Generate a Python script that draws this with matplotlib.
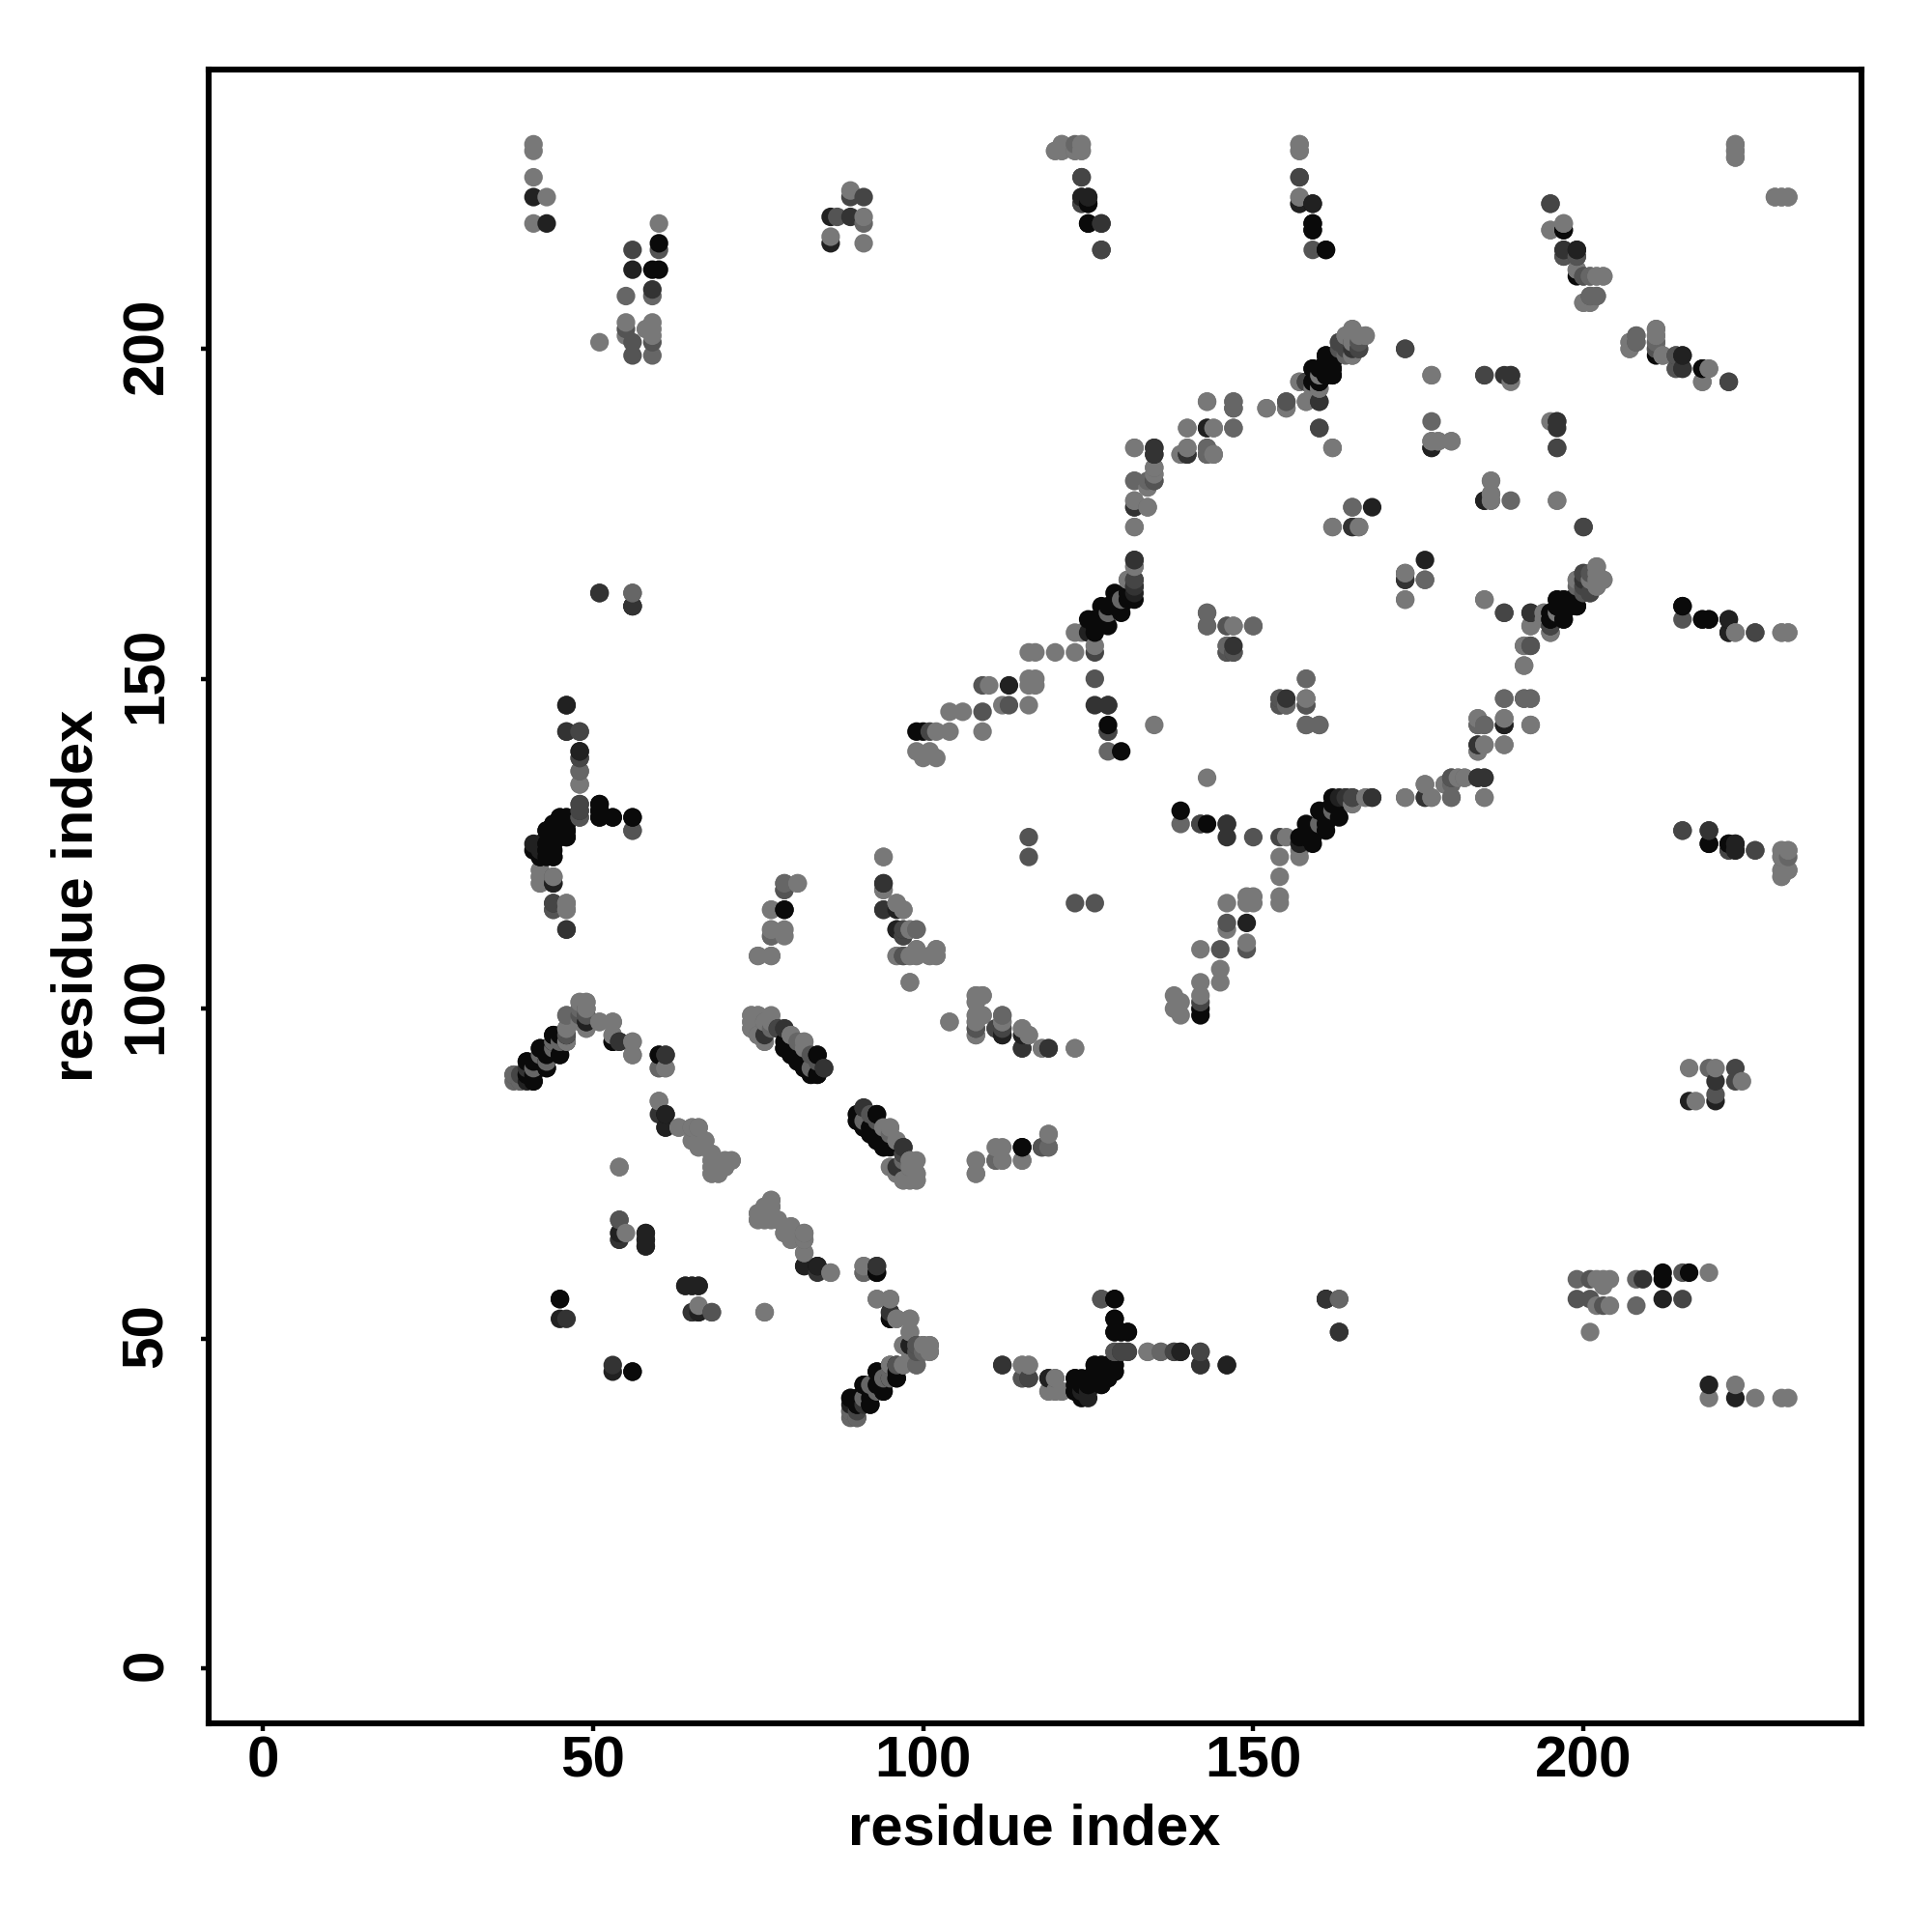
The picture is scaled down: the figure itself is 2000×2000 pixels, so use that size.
import numpy as np
import matplotlib
matplotlib.use('Agg')
import matplotlib.pyplot as plt
from matplotlib.transforms import ScaledTranslation

plt.rcParams['font.family'] = ['Liberation Sans', 'DejaVu Sans']

# residue contacts (i, j) with i < j, one list per grey level
shade_0 = [(60,216),(59,212),(60,212),(125,219),(125,222),(159,218),(159,219),(161,215),(161,199),(162,198),
           (159,197),(161,197),(162,196),(160,195),(159,195),(160,197),(160,196),(161,198),(125,159),(127,161),
           (129,163),(126,157),(128,158),(130,160),(131,162),(132,162),(126,158),(126,159),(127,159),(129,161),
           (130,161),(131,163),(130,139),(128,143),(128,161),(51,131),(51,130),(51,129),(53,129),
           (56,129),(45,129),(46,129),(46,127),(46,126),(43,127),(43,125),(41,124),(42,123),(43,123),(44,123),
           (45,127),(53,95),(42,94),(42,92),(43,92),(43,91),(40,92),(40,90),(41,90),(41,89),(44,94),(45,93),(44,96),
           (60,93),(79,94),(80,93),(81,93),(81,92),(82,92),(83,91),
           (83,90),(84,90),(84,93),(79,95),(82,91),(90,84),(90,83),(91,82),(92,82),(93,80),(94,80),(93,84),(92,81),
           (94,79),(93,60),(84,61),
           (95,53),(96,46),(93,45),(96,44),(91,43),(94,42),(89,41),(90,40),(92,40),(91,41),(92,41),(93,43),(94,43),
           (95,44),(96,45),(45,56),(79,115),(44,126),(43,124),(46,128),(44,128),
           (197,218),(199,211),(195,160),(162,197),(161,196),(197,159),(99,142),
           (161,196),(100,142),(123,44),(123,42),(124,43),(124,44),(125,44),(126,46),(127,46),(126,44),(127,43),
           (126,45),(127,45),(128,45),(129,45),(128,46),(129,46),(128,44),(125,43),(129,56),(129,53),(129,51),
           (130,51),(131,51),(56,45),(115,79),(218,197),(195,159),(196,162),(197,162),(196,161),(197,161),(198,161),
           (199,161),(215,161),(218,159),(219,159),(222,159),(222,157),(219,125),(222,125)]
shade_1 = [(41,223),(43,219),(56,212),(86,216),(86,220),(124,223),(125,223),(157,222),(159,222),(143,188),
           (132,164),(132,163),(168,176),(177,185),(46,146),(48,139),(56,161),(44,119),(41,125),(49,98),(46,95),
           (61,84),(61,82),(58,66),(58,65),(58,64),(54,66),(82,61),(96,112),(96,115),(199,215),(215,199),(113,149),
           (125,157),(89,40),(64,58),(65,58),(66,58),(66,54),(45,53),(95,54),(98,49),(112,96),(139,48),(146,46),
           (56,161),(119,44),(124,42),(125,42),(185,177),(184,140),(188,143),(184,135),(223,125),(223,124)]
shade_2 = [(59,209),(89,220),(127,219),(127,215),(160,192),(158,195),(135,184),(135,185),(140,184),(132,168),
           (132,165),(165,173),(173,165),(126,146),(128,146),(147,155),(146,128),
           (51,163),(46,142),(48,130),(46,112),(61,93),(54,95),(40,91),(76,96),(78,97),(79,97),(85,91),(91,85),
           (97,79),(94,119),(94,115),(112,97),(115,94),(119,94),(84,60),(93,61),(54,65),(65,54),(46,53),(112,46),(116,44),
           (142,46),(163,51),(176,132),(192,160),(200,165),(197,215),(215,197),(219,127),(161,56),
           (185,135),(188,196),(189,196),(132,176),(173,166),(196,189),(168,132),(164,132)]
shade_3 = [(56,215),(89,223),(91,223),(124,226),(157,226),(124,222),(135,180),(147,191),(160,188),(163,201),
           (166,200),(126,154),(146,154),(147,154),(128,142),(142,128),(165,132),(188,160),(48,142),(48,138),(48,131),
           (49,99),(39,90),(44,116),(97,78),(97,111),(97,112),(97,108),(111,97),(130,48),(131,48),(138,48),
           (142,48),(195,222),(222,195),(226,157),(226,124),(222,124),(215,127),(200,166),(200,164),(201,165),(201,163),
           (195,158),(199,214),(185,196),(196,185),(173,200),(54,68),(200,173),(101,142)]
shade_4 = [(60,215),(55,203),(56,201),(56,199),(59,201),(87,220),(155,192),(197,214),(200,211),(208,201),
           (211,200),(214,199),(214,197),(163,200),(143,184),(159,215),(126,150),(146,158),(147,158),
           (154,147),(154,146),(155,146),(158,146),(56,127),(48,129),(44,115),(49,100),(46,96),(79,118),
           (83,93),(92,84),(116,123),(116,126),(108,97),(111,77),(118,79),(119,79),(68,54),(115,44),(120,44),
           (129,48),(127,56),(163,56),(89,39),(90,38),(201,166),(192,155),(180,135),(99,49),(99,48),
           (109,145),(109,149),(113,146)]
shade_5 = [(59,208),(55,208),(59,199),(56,163),(91,219),(123,231),(123,230),(147,192),(147,188),(135,181),
           (132,180),(143,185),(165,176),(177,189),(176,165),(186,177),(185,162),(143,160),(143,158),
           (150,158),(146,155),(158,150),(158,143),(160,143),(184,143),(185,143),(188,147),(191,147),(192,147),
           (188,140),(191,155),(192,158),(195,157),(199,165),(199,164),(208,202),(211,201),(201,208),(202,208),
           (201,211),(182,135),(176,134),(180,134),(180,132),(128,139),(48,136),(38,90),
           (38,89),(39,89),(46,99),(48,100),(56,93),(60,91),(54,76),(41,91),(42,93),(44,95),(75,96),(76,98),
           (77,97),(81,95),(79,119),(77,111),(99,112),(98,108),(82,66),(82,65),(91,60),(99,46),(136,48),
           (91,83),(92,43),(94,44),(95,45),(112,99),(128,160),(130,162)]
shade_6 = [(41,231),(41,230),(41,226),(43,223),(41,219),(60,219),(55,204),(55,202),(59,204),(59,203),(59,202),
           (58,203),(51,201),(89,224),(91,220),(86,217),(91,216),(120,230),(121,231),(121,230),(124,231),(124,230),
           (157,231),(157,230),(157,223),(165,203),(167,202),(164,202),(166,202),(165,201),(165,199),(160,194),
           (157,195),(158,192),(155,191),(152,191),(143,192),(140,188),(144,188),(162,185),(132,185),(139,184),
           (140,185),(144,184),(135,182),(134,179),(132,177),(134,176),(132,173),(131,165),(132,167),(162,173),
           (166,173),(177,196),(177,186),(178,186),(180,186),(186,180),(186,178),(189,195),(197,219),(195,218),
           (199,212),(202,211),(203,211),(200,207),(201,207),(207,201),(207,200),(211,203),(211,202),(212,199),
           (219,197),(218,195),(223,231),(223,230),(223,229),(229,223),(230,223),(231,223),(173,162),
           (158,147),(135,143),(184,144),(188,144),(185,140),(184,139),(179,134),
           (181,135),(173,132),(177,132),(185,132),(165,131),(167,132),(196,177),
           (194,160),(194,159),(196,160),(202,167),(202,164),(203,165),(202,165),(191,152),(192,143),(223,157),
           (230,157),(231,157),(230,124),(231,124),(230,120),(231,121),(230,121),(230,123),(48,134),(42,121),(42,120),(42,119),
           (44,120),(46,116),(46,115),(77,115),(77,112),(75,108),(77,108),(81,119),(94,123),(94,118),(96,116),
           (97,115),(98,112),(96,108),(99,109),(99,108),(101,108),(102,109),(102,108),(98,104),(104,98),
           (108,102),(109,102),(108,101),(108,99),(109,99),(108,98),(108,96),(112,98),(115,97),(116,96),(118,94),
           (123,94),(48,101),(49,101),(49,97),(46,97),(51,98),(53,98),(53,96),(56,95),(60,86),(61,91),(63,82),
           (65,82),(66,82),(65,80),(67,80),(66,79),(68,78),(68,77),(68,76),(68,75),(69,75),(69,76),(70,77),(71,77),
           (70,76),(74,99),(75,99),(74,98),(74,97),(76,95),(77,98),(80,96),(82,95),(94,82),(95,82),(96,80),
           (98,77),(95,76),(96,75),(97,74),(98,74),(99,74),(99,75),(98,76),(99,77),(77,71),(76,70),(75,69),(75,68),
           (76,69),(76,68),(77,68),(78,68),(77,70),(79,66),(80,67),(80,66),(80,65),(82,63),(86,60),(91,61),(93,56),
           (95,56),(96,53),(98,53),(98,51),(97,49),(100,49),(101,49),(98,48),(101,48),(95,46),(97,46),(66,55),
           (76,54),(115,46),(116,46),(119,42),(120,42),(121,42),(108,77),(108,75),(111,79),(112,79),(112,77),(115,77),
           (119,81),(134,48),(102,142),(104,142),(99,139),(100,138),(101,139),(102,138),(104,145),
           (106,145),(109,142),(110,149),(112,146),(116,146),(116,149),(117,149),(116,150),(117,150),(116,154),
           (117,154),(120,154),(123,154),(123,157),(124,157),(126,155)]

shades = [shade_0, shade_1, shade_2, shade_3, shade_4, shade_5, shade_6]
greys = [0.04, 0.13, 0.2, 0.27, 0.33, 0.4, 0.47]

tick_values = [0, 50, 100, 150, 200]
axis_label = 'residue index'

fig = plt.figure(figsize=(10, 10), dpi=200)
ax = fig.add_axes([0.108, 0.108, 0.8555, 0.85625])

xs, ys, cs = [], [], []
for pairs, g in zip(shades, greys):
    for i, j in pairs:
        # the map is symmetric, each contact shows twice
        xs += [i, j]
        ys += [j, i]
        cs += [g, g]
xs = np.array(xs)
ys = np.array(ys)
cs = np.array(cs)
order = np.lexsort((ys, xs))   # drawn column by column
ax.scatter(xs[order], ys[order], s=48, c=cs[order], cmap='gray', vmin=0, vmax=1, linewidths=0, zorder=3)

ax.set_xlim(-8.19, 242.1)
ax.set_ylim(-8.3, 242.4)
ax.set_xticks(tick_values)
ax.set_yticks(tick_values)
for s in ax.spines.values():
    s.set_linewidth(2.2)
ax.tick_params(axis='x', length=3, width=1.6, pad=1.5, labelsize=21.7)
ax.tick_params(axis='y', length=3, width=1.6, pad=10, labelsize=21.7)
for t in ax.get_xticklabels():
    t.set_fontweight('bold')
lift = ScaledTranslation(0, 1.3 / 72, fig.dpi_scale_trans)
for t in ax.get_yticklabels():
    t.set_fontweight('bold')
    t.set_rotation(90)
    t.set_va('center')
    t.set_transform(t.get_transform() + lift)

fig.text(1071 / 2000, 1 - 1894 / 2000, axis_label, fontsize=21.5, fontweight='bold', ha='center', va='center')
fig.text(80 / 2000, 1 - 927 / 2000, axis_label, fontsize=21.5, fontweight='bold', ha='center', va='center', rotation=90)

plt.savefig('out.png', dpi=200)
